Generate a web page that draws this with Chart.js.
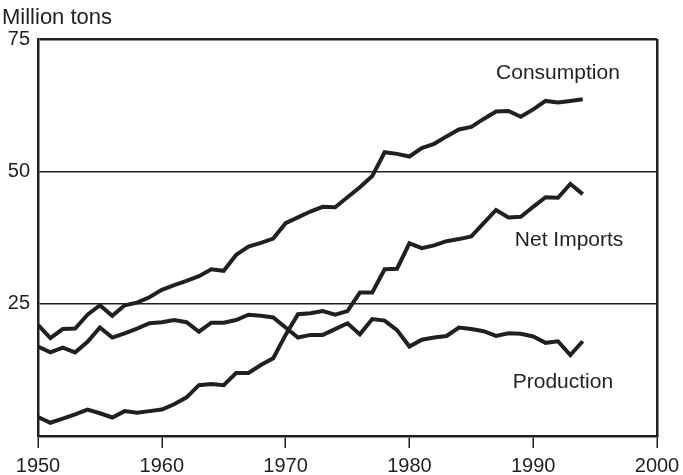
<!DOCTYPE html>
<html>
<head>
<meta charset="utf-8">
<script src="https://cdn.jsdelivr.net/npm/chart.js@4/dist/chart.umd.min.js"></script>
<style>
	html, body { margin: 0; padding: 0; background: #fff; }
	#wrap { width: 683px; height: 475px; position: relative; }
</style>
</head>
<body>
<div id="wrap"><canvas id="coalChart"></canvas></div>
<script>
	'use strict';

	// Years shown on the chart
	const years = [];
	for (let y = 1950; y <= 1994; y++) years.push(y);

	// Million tons
	const consumption = [21.0, 18.5, 20.2, 20.3, 22.9, 24.7, 22.7, 24.7, 25.2, 26.2,
		27.6, 28.5, 29.3, 30.2, 31.5, 31.2, 34.2, 35.8, 36.5, 37.3,
		40.2, 41.3, 42.4, 43.3, 43.2, 45.1, 47.0, 49.1, 53.6, 53.3,
		52.8, 54.4, 55.2, 56.6, 57.9, 58.4, 59.9, 61.3, 61.4, 60.3,
		61.7, 63.3, 63.0, 63.3, 63.6];
	const netImports = [3.6, 2.5, 3.3, 4.1, 5.0, 4.3, 3.5, 4.7, 4.4, 4.7,
		5.0, 6.0, 7.3, 9.6, 9.8, 9.6, 11.9, 11.9, 13.4, 14.7,
		19.1, 23.0, 23.2, 23.6, 22.9, 23.6, 27.1, 27.1, 31.5, 31.6,
		36.4, 35.5, 36.0, 36.8, 37.2, 37.7, 40.2, 42.7, 41.3, 41.4,
		43.3, 45.1, 45.0, 47.6, 45.7];
	const production = [16.9, 15.8, 16.7, 15.8, 17.8, 20.5, 18.6, 19.4, 20.3, 21.3,
		21.5, 21.9, 21.5, 19.7, 21.4, 21.4, 21.9, 22.9, 22.7, 22.4,
		20.5, 18.6, 19.1, 19.1, 20.2, 21.3, 19.2, 22.1, 21.8, 20.0,
		16.9, 18.2, 18.6, 18.9, 20.5, 20.2, 19.8, 18.9, 19.4, 19.3,
		18.8, 17.6, 17.9, 15.3, 17.9];

	const seriesNames = ['Consumption', 'Net Imports', 'Production'];
	// where each series name sits, in data units [year, million tons]
	const labelSpots = [[1992, 68.6], [1992.9, 37.0], [1992.4, 10.2]];
	const xTicks = [1950, 1960, 1970, 1980, 1990, 2000];
	const yTicks = [25, 50, 75];

	const INK = '#231f20';
	const FONT = "'Liberation Sans', Arial, sans-serif";

	function points(vals) {
		return years.map((yr, i) => ({ x: yr, y: vals[i] }));
	}

	function lineSet(label, vals) {
		return {
			label: label,
			data: points(vals),
			borderColor: INK,
			borderWidth: 4,
			pointRadius: 0,
			tension: 0,
			fill: false,
			borderJoinStyle: 'miter'
		};
	}

	// series names and unit caption
	const textPlugin = {
		id: 'textPlugin',
		afterDraw(chart) {
			const ctx = chart.ctx;
			const xs = chart.scales.x, ys = chart.scales.y;
			ctx.save();
			ctx.fillStyle = INK;
			ctx.textBaseline = 'middle';
			ctx.textAlign = 'left';
			ctx.font = '22px ' + FONT;
			ctx.fillText('Million tons', 2, 18);
			ctx.font = '21px ' + FONT;
			ctx.textAlign = 'center';
			seriesNames.forEach((name, i) => {
				ctx.fillText(name, xs.getPixelForValue(labelSpots[i][0]), ys.getPixelForValue(labelSpots[i][1]));
			});
			ctx.restore();
		}
	};

	new Chart(document.getElementById('coalChart'), {
		type: 'line',
		data: {
			datasets: [
				lineSet(seriesNames[0], consumption),
				lineSet(seriesNames[1], netImports),
				lineSet(seriesNames[2], production)
			]
		},
		options: {
			responsive: true,
			maintainAspectRatio: false,
			animation: false,
			layout: { padding: { top: 39, right: 26, left: 0, bottom: 0 } },
			plugins: {
				legend: { display: false },
				tooltip: { enabled: false }
			},
			scales: {
				x: {
					type: 'linear',
					min: 1950,
					max: 2000,
					afterBuildTicks: (axis) => { axis.ticks = xTicks.map(v => ({ value: v })); },
					afterFit: (axis) => {
						axis.height = 39;
						axis.paddingLeft = 0;
						axis.paddingRight = 0;
					},
					grid: {
						drawOnChartArea: true,
						color: (c) => (c.tick && c.tick.value === 2000 ? INK : 'rgba(0,0,0,0)'),
						lineWidth: 2.5,
						tickColor: INK,
						tickLength: 12,
						tickWidth: 1.5
					},
					border: { color: INK, width: 2.5 },
					ticks: {
						color: INK,
						font: { family: FONT, size: 20 },
						padding: 6,
						maxRotation: 0,
						callback: (v) => String(v)
					}
				},
				y: {
					min: 0,
					max: 75,
					afterBuildTicks: (axis) => { axis.ticks = [0].concat(yTicks).map(v => ({ value: v })); },
					afterFit: (axis) => { axis.width = 38; },
					grid: {
						drawTicks: false,
						color: (c) => (c.tick && c.tick.value === 0 ? 'rgba(0,0,0,0)' : INK),
						lineWidth: (c) => (c.tick && c.tick.value === 75 ? 2.5 : 1.5)
					},
					border: { color: INK, width: 2.5 },
					ticks: {
						color: INK,
						font: { family: FONT, size: 20 },
						padding: 8,
						callback: (v) => (v === 0 ? '' : String(v))
					}
				}
			}
		},
		plugins: [textPlugin]
	});
</script>
</body>
</html>
